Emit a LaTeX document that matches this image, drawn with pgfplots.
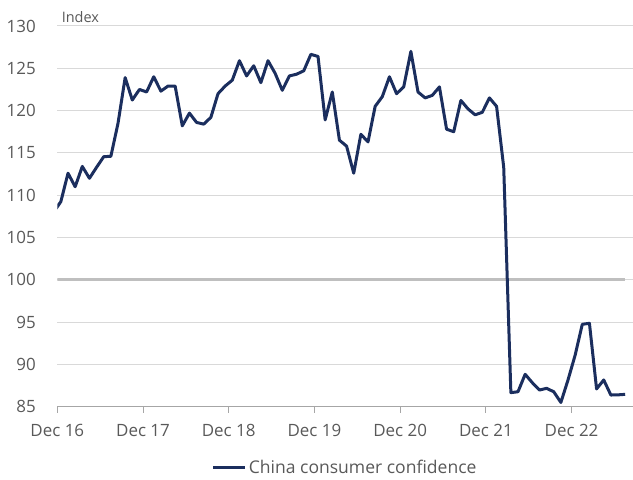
\documentclass[border=0pt]{standalone}
\usepackage{pgfplots}
\pgfplotsset{compat=1.18}
\usepackage{fontspec}
\setmainfont{Open Sans}
\definecolor{navy}{RGB}{27,46,94}
\definecolor{txt}{RGB}{89,89,89}
\definecolor{gridc}{RGB}{217,217,217}
\definecolor{refc}{RGB}{191,191,191}
\definecolor{axc}{RGB}{166,166,166}
\begin{document}
\begin{tikzpicture}
\path[use as bounding box] (0,0) rectangle (633bp,480bp);
\begin{axis}[
  at={(57.3bp,73.3bp)}, anchor=south west,
  scale only axis, width=575.7bp, height=380.7bp,
  xmin=0, xmax=80.6, ymin=85, ymax=130,
  xtick={0,12,24,36,48,60,72},
  xticklabels={Dec 16,Dec 17,Dec 18,Dec 19,Dec 20,Dec 21,Dec 22},
  ytick={85,90,...,130},
  ymajorgrids, major grid style={draw=gridc, line width=1bp},
  axis x line*=bottom, axis y line*=left,
  y axis line style={draw=none},
  x axis line style={draw=axc, line width=1bp},
  ytick style={draw=none},
  xtick style={draw=axc, line width=1bp},
  tick align=outside, major tick length=6bp,
  /pgf/number format/assume math mode=true,
  tick label style={font=\fontsize{17}{20}\selectfont, text=txt},
  yticklabel style={xshift=-12bp},
  xticklabel style={yshift=-8bp},
  ylabel={Index},
  ylabel style={rotate=-90, at={(rel axis cs:0,1)}, anchor=south west, font=\fontsize{14.5}{16}\selectfont, text=txt, xshift=1bp, yshift=0bp},
  legend style={at={(0.5,-0.16)}, anchor=center, draw=none, fill=none, font=\fontsize{17.6}{20}\selectfont, text=txt, inner sep=0pt},
  legend cell align=left,
  legend image code/.code={\draw[#1] (0bp,0bp) -- (32bp,0bp);},
  clip=true,
]
\addplot[refc, line width=3bp, forget plot] coordinates {(0,100) (79.5,100)};
\addplot[navy, line width=3bp, line join=round] coordinates {
(-0.5,108.0) (0.5,109.25) (1.5,112.6) (2.5,111.0) (3.5,113.4) (4.5,112.0) (5.5,113.3) (6.5,114.55) (7.5,114.6) (8.5,118.5) (9.5,123.9) (10.5,121.25) (11.5,122.5)
(12.5,122.2) (13.5,124.0) (14.5,122.3) (15.5,122.9) (16.5,122.9) (17.5,118.2) (18.5,119.7) (19.5,118.6) (20.5,118.4) (21.5,119.2) (22.5,122.0) (23.5,122.9)
(24.5,123.6) (25.5,125.9) (26.5,124.1) (27.5,125.3) (28.5,123.3) (29.5,125.9) (30.5,124.4) (31.5,122.4) (32.5,124.1) (33.5,124.3) (34.5,124.7) (35.5,126.65)
(36.5,126.4) (37.5,118.9) (38.5,122.2) (39.5,116.5) (40.5,115.8) (41.5,112.6) (42.5,117.2) (43.5,116.3) (44.5,120.5) (45.5,121.65) (46.5,124.0) (47.5,122.0)
(48.5,122.8) (49.5,127.0) (50.5,122.2) (51.5,121.5) (52.5,121.8) (53.5,122.8) (54.5,117.8) (55.5,117.5) (56.5,121.2) (57.5,120.2) (58.5,119.5) (59.5,119.8)
(60.5,121.5) (61.5,120.5) (62.5,113.3) (63.5,86.66) (64.5,86.77) (65.5,88.83) (66.5,87.84) (67.5,86.97) (68.5,87.17) (69.5,86.77) (70.5,85.5) (71.5,88.16)
(72.5,91.1) (73.5,94.74) (74.5,94.86) (75.5,87.1) (76.5,88.16) (77.5,86.38) (78.5,86.4) (79.5,86.46)
};
\addlegendentry{China consumer confidence}
\end{axis}
\end{tikzpicture}
\end{document}
